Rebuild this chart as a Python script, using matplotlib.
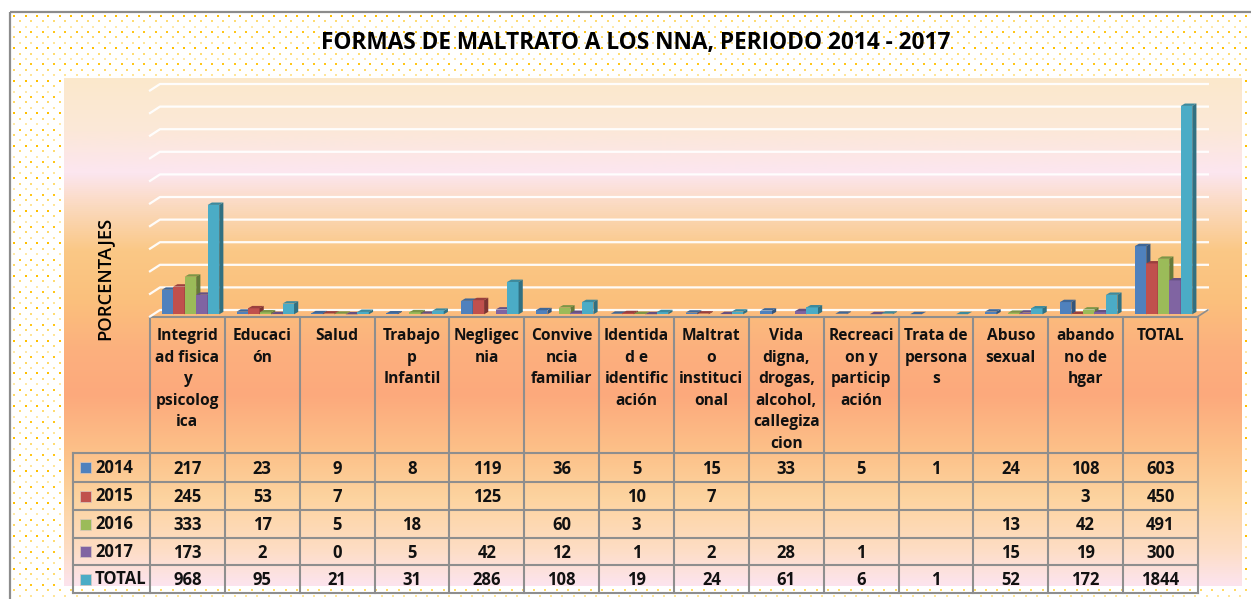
import matplotlib
matplotlib.use("Agg")
import matplotlib.pyplot as plt
import numpy as np
from matplotlib.colors import LinearSegmentedColormap, to_rgb
from matplotlib.patches import Polygon, Rectangle

plt.rcParams["font.family"] = ["Open Sans", "DejaVu Sans"]

TITLE = "FORMAS DE MALTRATO A LOS NNA, PERIODO 2014 - 2017"
Y_LABEL = "PORCENTAJES"

categories = [
    "Integrid\nad fisica\ny\npsicolog\nica",
    "Educaci\nón",
    "Salud",
    "Trabajo\np\nInfantil",
    "Negligec\nnia",
    "Convive\nncia\nfamiliar",
    "Identida\nd e\nidentific\nación",
    "Maltrat\no\ninstituci\nonal",
    "Vida\ndigna,\ndrogas,\nalcohol,\ncallegiza\ncion",
    "Recreaci\non y\nparticip\nación",
    "Trata de\npersona\ns",
    "Abuso\nsexual",
    "abando\nno de\nhgar",
    "TOTAL",
]

series_names = ["2014", "2015", "2016", "2017", "TOTAL"]
values_2014 = [217, 23, 9, 8, 119, 36, 5, 15, 33, 5, 1, 24, 108, 603]
values_2015 = [245, 53, 7, None, 125, None, 10, 7, None, None, None, None, 3, 450]
values_2016 = [333, 17, 5, 18, None, 60, 3, None, None, None, None, 13, 42, 491]
values_2017 = [173, 2, 0, 5, 42, 12, 1, 2, 28, 1, None, 15, 19, 300]
values_total = [968, 95, 21, 31, 286, 108, 19, 24, 61, 6, 1, 52, 172, 1844]
all_series = [values_2014, values_2015, values_2016, values_2017, values_total]
colors = ["#4F81BD", "#C0504D", "#9BBB59", "#8064A2", "#4BACC6"]

y_ticks = list(range(0, 2001, 200))

W, H = 1251, 599
# page layout in pixels
COL_LEFT, COL_W = 150.0, 74.85
LEGEND_LEFT = 73
ROW_LINES = [453, 482, 510, 538, 565, 593]
HEADER_TOP = 316.5
FLOOR_Y, PX_PER_200 = 314.3, 22.6
GRID_COLOR = "#8E8E8E"

fig = plt.figure(figsize=(W / 100, H / 100), dpi=100, facecolor="white")

# page layer in pixel coordinates, y going down
page = fig.add_axes([0, 0, 1, 1])
page.set_xlim(0, W)
page.set_ylim(H, 0)
page.axis("off")

# dotted paper
for i, y in enumerate(np.arange(15.7, H, 5.42)):
    x = np.arange(14.3 if i % 2 == 0 else 20, W, 11.3)
    page.scatter(x, np.full_like(x, y), s=1.6, marker="s", linewidths=0, color="#FFC000",
                 alpha=[1.0, 0.55, 0.35, 0.9, 0.6, 0.4][i % 6], zorder=1)
page.plot([10, 10], [H, 12], color="#8C8C8C", lw=1.6, zorder=2, solid_capstyle="butt")
page.plot([10, W], [12, 12], color="#8C8C8C", lw=1.6, zorder=2, solid_capstyle="butt")

# gradient behind the chart
stops = [(78, "#FBE9CC"), (130, "#FCE8D8"), (172, "#FCE6F0"), (205, "#FBDAC0"), (250, "#FAC886"),
         (300, "#FBC07C"), (350, "#FCB07E"), (395, "#FDA97C"), (450, "#FCC088"), (500, "#FDD4A0"),
         (550, "#FEDDC4"), (586, "#FCE4EE")]
bg_cmap = LinearSegmentedColormap.from_list(
    "bg", [((y - 78) / (586 - 78), c) for y, c in stops])
page.imshow(np.linspace(0, 1, 512).reshape(-1, 1), cmap=bg_cmap, aspect="auto",
            extent=(64, 1241.5, 586, 78), zorder=3)
page.set_xlim(0, W)
page.set_ylim(H, 0)

page.text(636, 42.5, TITLE, fontsize=16.3, fontweight="bold", ha="center", va="center",
          color="#000000", zorder=8)
page.text(104, 278, Y_LABEL, fontsize=13.2, fontweight="semibold", rotation=90, ha="center",
          va="center", color="#000000", zorder=8)

# table grid
col_lines = [COL_LEFT + i * COL_W for i in range(len(categories) + 1)]
for x in col_lines:
    page.plot([x, x], [HEADER_TOP, ROW_LINES[-1]], color=GRID_COLOR, lw=1.5, zorder=6)
page.plot([col_lines[0], col_lines[-1]], [HEADER_TOP, HEADER_TOP], color=GRID_COLOR, lw=1.5, zorder=6)
for y in ROW_LINES:
    page.plot([LEGEND_LEFT, col_lines[-1]], [y, y], color=GRID_COLOR, lw=1.5, zorder=6)
page.plot([LEGEND_LEFT, LEGEND_LEFT], [ROW_LINES[0], ROW_LINES[-1]], color=GRID_COLOR, lw=1.5, zorder=6)

# header labels
for i, label in enumerate(categories):
    xc = col_lines[i] + COL_W / 2
    for j, line in enumerate(label.split("\n")):
        page.text(xc, 336 + j * 21.6, line, fontsize=11.2, fontweight="bold", ha="center",
                  va="center", color="#111111", zorder=8)

# table body with legend keys
for r, name in enumerate(series_names):
    y_mid = (ROW_LINES[r] + ROW_LINES[r + 1]) / 2
    page.add_patch(Rectangle((79.7, y_mid - 5.5), 11, 11, facecolor=colors[r],
                             edgecolor="#D8C8C0", lw=0.5, zorder=7))
    page.text(95, y_mid + 0.3, name, fontsize=12, fontweight="bold", ha="left", va="center",
              color="#111111", zorder=8)
    for c, v in enumerate(all_series[r]):
        if v is not None:
            page.text(col_lines[c] + COL_W / 2, y_mid + 1, str(v), fontsize=12, fontweight="bold",
                      ha="center", va="center", color="#111111", zorder=8)

# chart layer: x in categories, y in cases
ax = fig.add_axes([COL_LEFT / W, (H - FLOOR_Y) / H, len(categories) * COL_W / W, 5 * 2 * PX_PER_200 / H])
ax.set_xlim(0, len(categories))
ax.set_ylim(0, y_ticks[-1])
ax.axis("off")
ax.patch.set_alpha(0)

px_x = 1 / COL_W
px_y = 200 / PX_PER_200
back_x, back_y = 10 * px_x, 4.3 * px_y
front_drop = 2.2 * px_y

for tick in y_ticks:
    ax.plot([0, back_x, len(categories) + back_x],
            [tick - front_drop, tick + back_y, tick + back_y],
            color="white", lw=1.6, alpha=0.95, clip_on=False, zorder=1)
ax.plot([len(categories), len(categories) + back_x], [-front_drop, back_y],
        color=GRID_COLOR, lw=1.2, clip_on=False, zorder=1)

bar_w = 11.5 * px_x
depth_x, depth_y = 4.2 * px_x, 2.4 * px_y
group_shift = 3.0 * px_x


def shade(color, factor):
    return tuple(c * factor for c in to_rgb(color))


for s, (vals, color) in enumerate(zip(all_series, colors)):
    for c, v in enumerate(vals):
        if v is None:
            continue
        left = c + 0.5 + group_shift + (s - 2.5) * bar_w
        z = 3 + s * 3
        ax.bar(left, v, width=bar_w, align="edge", color=color, edgecolor="none", zorder=z,
               clip_on=False)
        ax.add_patch(Polygon([(left, v), (left + depth_x, v + depth_y),
                              (left + bar_w + depth_x, v + depth_y), (left + bar_w, v)],
                             facecolor=shade(color, 0.8), edgecolor="none", zorder=z + 1,
                             clip_on=False))
        ax.add_patch(Polygon([(left + bar_w, 0), (left + bar_w + depth_x, depth_y),
                              (left + bar_w + depth_x, v + depth_y), (left + bar_w, v)],
                             facecolor=shade(color, 0.65), edgecolor="none", zorder=z + 1,
                             clip_on=False))

fig.savefig("out.png", dpi=100)
